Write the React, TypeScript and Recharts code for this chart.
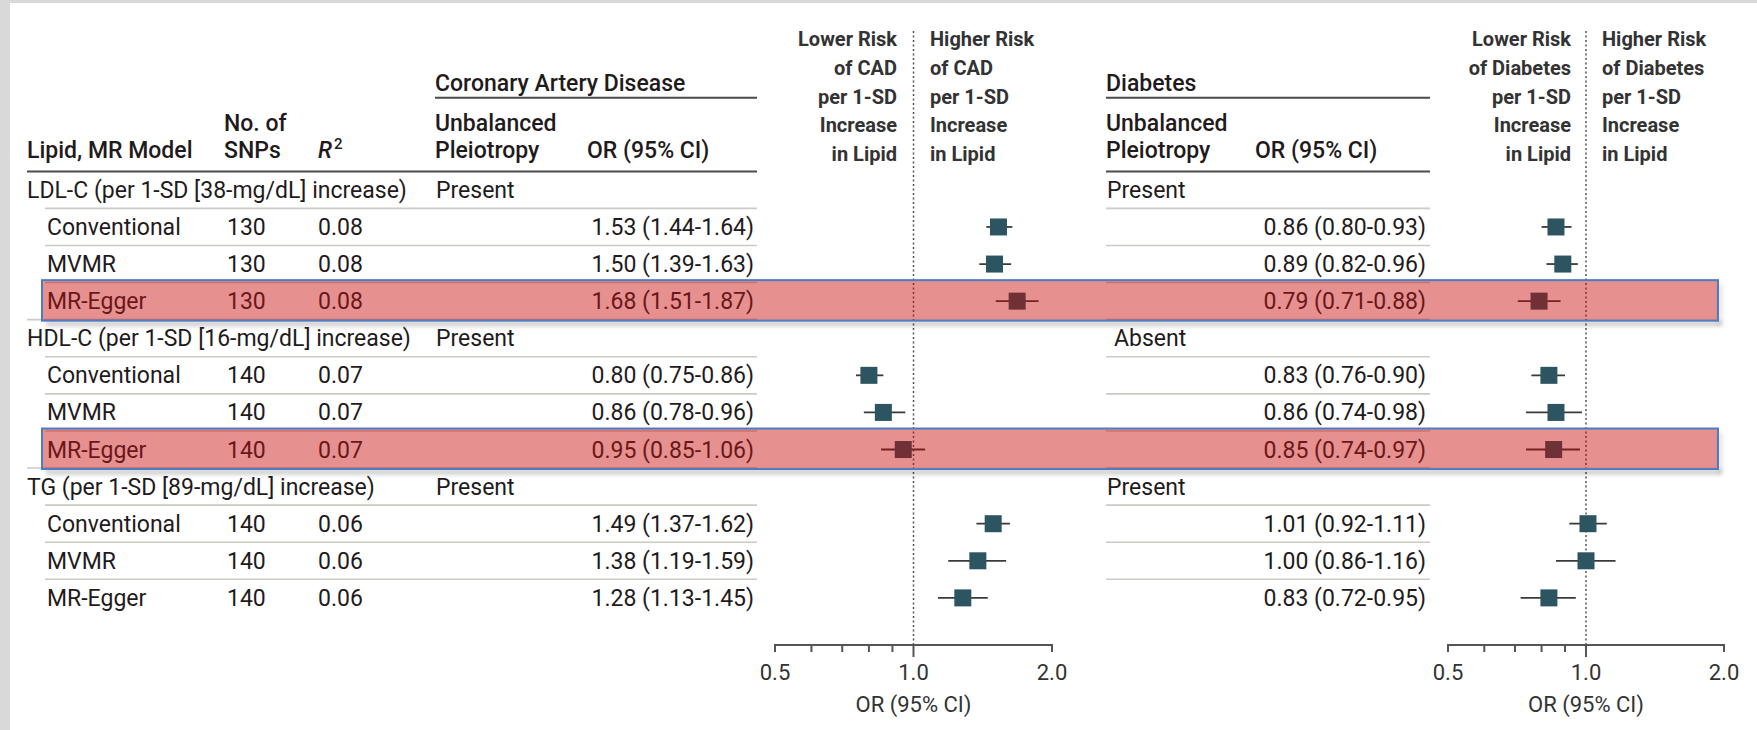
import React from 'react';
import {
  ComposedChart,
  Scatter,
  ErrorBar,
  XAxis,
  YAxis,
  ReferenceLine,
} from 'recharts';

// ---- data ----
const groupLabels = [
  'LDL-C (per 1-SD [38-mg/dL] increase)',
  'HDL-C (per 1-SD [16-mg/dL] increase)',
  'TG (per 1-SD [89-mg/dL] increase)',
];
const cadPleiotropy = ['Present', 'Present', 'Present'];
const dmPleiotropy = ['Present', 'Absent', 'Present'];
const models = ['Conventional', 'MVMR', 'MR-Egger'];
const snpCounts = [130, 140, 140];
const r2Values = ['0.08', '0.07', '0.06'];

// 9 estimates: group x model
const cadOr = [1.53, 1.5, 1.68, 0.8, 0.86, 0.95, 1.49, 1.38, 1.28];
const cadLow = [1.44, 1.39, 1.51, 0.75, 0.78, 0.85, 1.37, 1.19, 1.13];
const cadHigh = [1.64, 1.63, 1.87, 0.86, 0.96, 1.06, 1.62, 1.59, 1.45];
const dmOr = [0.86, 0.89, 0.79, 0.83, 0.86, 0.85, 1.01, 1.0, 0.83];
const dmLow = [0.8, 0.82, 0.71, 0.76, 0.74, 0.74, 0.92, 0.86, 0.72];
const dmHigh = [0.93, 0.96, 0.88, 0.9, 0.98, 0.97, 1.11, 1.16, 0.95];
const highlighted = [false, false, true, false, false, true, false, false, false];

const orTicks = [0.5, 0.6, 0.7, 0.8, 0.9, 1, 2];
const orTickLabels: Record<number, string> = { 0.5: '0.5', 1: '1.0', 2: '2.0' };

const cadLowerHead = ['Lower Risk', 'of CAD', 'per 1-SD', 'Increase', 'in Lipid'];
const cadHigherHead = ['Higher Risk', 'of CAD', 'per 1-SD', 'Increase', 'in Lipid'];
const dmLowerHead = ['Lower Risk', 'of Diabetes', 'per 1-SD', 'Increase', 'in Lipid'];
const dmHigherHead = ['Higher Risk', 'of Diabetes', 'per 1-SD', 'Increase', 'in Lipid'];

// ---- derived tables ----
const fmt = (v: number) => v.toFixed(2);

type Row = {
  row: number;
  group?: string;
  cadP?: string;
  dmP?: string;
  model?: string;
  snps?: number;
  r2?: string;
  cadText?: string;
  dmText?: string;
  endOfGroup?: boolean;
  hl?: boolean;
};

const tableRows: Row[] = [];
const cadData: any[] = [];
const dmData: any[] = [];

groupLabels.forEach((g, gi) => {
  tableRows.push({ row: gi * 4, group: g, cadP: cadPleiotropy[gi], dmP: dmPleiotropy[gi] });
  models.forEach((m, mi) => {
    const i = gi * 3 + mi;
    const row = gi * 4 + 1 + mi;
    tableRows.push({
      row,
      model: m,
      snps: snpCounts[gi],
      r2: r2Values[gi],
      cadText: `${fmt(cadOr[i])} (${fmt(cadLow[i])}-${fmt(cadHigh[i])})`,
      dmText: `${fmt(dmOr[i])} (${fmt(dmLow[i])}-${fmt(dmHigh[i])})`,
      endOfGroup: mi === models.length - 1,
      hl: highlighted[i],
    });
    cadData.push({ row, x: cadOr[i], err: [cadOr[i] - cadLow[i], cadHigh[i] - cadOr[i]] });
    dmData.push({ row, x: dmOr[i], err: [dmOr[i] - dmLow[i], dmHigh[i] - dmOr[i]] });
  });
});

const rowTicks = tableRows.map((r) => r.row);
const lastRow = rowTicks[rowTicks.length - 1];
const Y_DOMAIN: [number, number] = [-4.31, 12.27];

const TEXT = '#1f1b1c';
const TEXT_HL = '#6a1719';
const TEAL = '#2c5561';
const FONT = 'Roboto, "Liberation Sans", sans-serif';
const FS = 23;

// y-axis tick = one table row (text, separator, and the highlight band for MR-Egger rows)
function RowTick(props: any) {
  const { y, payload } = props;
  const r = tableRows.find((t) => t.row === payload.value);
  if (!r) return null;
  const b = y + 8;
  const sep = y + 18.5;
  const common = { fontSize: FS, fill: r.hl ? TEXT_HL : TEXT, fontFamily: FONT };
  return (
    <g>
      {r.row !== lastRow && (
        <>
          <line x1={r.endOfGroup ? 27 : 45} x2={757} y1={sep} y2={sep} stroke="#cbcac4" strokeWidth={1.6} />
          <line x1={1106} x2={1430} y1={sep} y2={sep} stroke="#cbcac4" strokeWidth={1.6} />
        </>
      )}
      {r.hl && (
        <g>
          <rect x={46} y={y + 20} width={1676} height={5} fill="rgba(0,0,0,0.2)" style={{ filter: 'blur(2px)' }} />
          <rect x={1718} y={y - 17} width={4} height={40} fill="rgba(0,0,0,0.12)" style={{ filter: 'blur(2px)' }} />
          <rect x={42} y={y - 21} width={1676} height={40.5} fill="rgba(200,0,0,0.435)" stroke="#4d7cc2" strokeWidth={2} />
        </g>
      )}
      {r.group ? (
        <>
          <text x={27} y={b} {...common}>{r.group}</text>
          <text x={436} y={b} {...common}>{r.cadP}</text>
          <text x={r.dmP === 'Absent' ? 1114 : 1107} y={b} {...common}>{r.dmP}</text>
        </>
      ) : (
        <>
          <text x={47} y={b} {...common}>{r.model}</text>
          <text x={227} y={b} {...common}>{r.snps}</text>
          <text x={318} y={b} {...common}>{r.r2}</text>
          <text x={754} y={b} textAnchor="end" {...common}>{r.cadText}</text>
          <text x={1426} y={b} textAnchor="end" {...common}>{r.dmText}</text>
        </>
      )}
    </g>
  );
}

// axis height is 1px each and the axes stack, so `shift` brings ticks back to the plot bottom
function OrTick(props: any) {
  const { x, payload, shift } = props;
  const y = props.y - shift;
  const v = payload.value as number;
  const label = orTickLabels[v];
  return (
    <g>
      <line x1={x} x2={x} y1={y} y2={y + (v === 1 ? 13 : 8)} stroke="#555" strokeWidth={2} />
      {label && (
        <text x={x} y={y + 36} textAnchor="middle" fontSize={22} fill="#333" fontFamily={FONT}>
          {label}
        </text>
      )}
      {v === 1 && (
        <text x={x} y={y + 68} textAnchor="middle" fontSize={22} fill="#333" fontFamily={FONT}>
          OR (95% CI)
        </text>
      )}
    </g>
  );
}

const Square = (props: any) => (
  <rect x={props.cx - 8.5} y={props.cy - 8.5} width={17} height={17} fill={TEAL} />
);

function Header() {
  const t = { fontSize: FS, fill: TEXT, fontFamily: FONT, fontWeight: 500 };
  const h = { fontSize: 20, fill: '#333', fontFamily: FONT, fontWeight: 700 };
  const lineYs = [46, 75, 104, 132, 161];
  return (
    <svg width={1757} height={730} style={{ position: 'absolute', left: 0, top: 0 }}>
      <text x={435} y={91} {...t}>Coronary Artery Disease</text>
      <line x1={435} x2={757} y1={97.7} y2={97.7} stroke="#4a4a4a" strokeWidth={2} />
      <text x={27} y={158} {...t}>Lipid, MR Model</text>
      <text x={224} y={131} {...t}>No. of</text>
      <text x={224} y={158} {...t}>SNPs</text>
      <text x={318} y={158} {...t}>
        <tspan fontStyle="italic">R</tspan>
        <tspan fontSize={15} dy={-9} dx={2}>2</tspan>
      </text>
      <text x={435} y={131} {...t}>Unbalanced</text>
      <text x={435} y={158} {...t}>Pleiotropy</text>
      <text x={587} y={158} {...t}>OR (95% CI)</text>
      <line x1={27} x2={757} y1={171.5} y2={171.5} stroke="#4a4a4a" strokeWidth={2} />

      <text x={1106} y={91} {...t}>Diabetes</text>
      <line x1={1106} x2={1430} y1={97.7} y2={97.7} stroke="#4a4a4a" strokeWidth={2} />
      <text x={1106} y={131} {...t}>Unbalanced</text>
      <text x={1106} y={158} {...t}>Pleiotropy</text>
      <text x={1255} y={158} {...t}>OR (95% CI)</text>
      <line x1={1106} x2={1430} y1={171.5} y2={171.5} stroke="#4a4a4a" strokeWidth={2} />

      {cadLowerHead.map((s, i) => (
        <text key={'cl' + i} x={897} y={lineYs[i]} textAnchor="end" {...h}>{s}</text>
      ))}
      {cadHigherHead.map((s, i) => (
        <text key={'ch' + i} x={930} y={lineYs[i]} {...h}>{s}</text>
      ))}
      {dmLowerHead.map((s, i) => (
        <text key={'dl' + i} x={1571} y={lineYs[i]} textAnchor="end" {...h}>{s}</text>
      ))}
      {dmHigherHead.map((s, i) => (
        <text key={'dh' + i} x={1602} y={lineYs[i]} {...h}>{s}</text>
      ))}
    </svg>
  );
}

export default function App() {
  return (
    <div style={{ position: 'relative', width: 1757, height: 730, background: '#d9d9d9', overflow: 'hidden' }}>
      <style>{'body{margin:0}'}</style>
      <div style={{ position: 'absolute', left: 10, top: 3, right: 0, bottom: 0, background: '#fff' }} />
      <Header />
      <div style={{ position: 'absolute', left: 0, top: 0 }}>
        <ComposedChart width={1757} height={730} margin={{ top: 30, right: 33, bottom: 83, left: 41 }}>
          <YAxis
            type="number"
            dataKey="row"
            domain={Y_DOMAIN}
            allowDataOverflow
            reversed
            ticks={rowTicks}
            interval={0}
            width={1}
            axisLine={false}
            tickLine={false}
            tick={(p: any) => <RowTick {...p} />}
          />
          <XAxis
            xAxisId="cad"
            type="number"
            dataKey="x"
            scale="log"
            domain={[0.5, 2]}
            allowDataOverflow
            ticks={orTicks}
            interval={0}
            padding={{ left: 733, right: 672 }}
            height={1}
            axisLine={false}
            tickLine={false}
            tickSize={0}
            tickMargin={0}
            tick={(p: any) => <OrTick {...p} shift={1} />}
          />
          <XAxis
            xAxisId="dm"
            type="number"
            dataKey="x"
            scale="log"
            domain={[0.5, 2]}
            allowDataOverflow
            ticks={orTicks}
            interval={0}
            padding={{ left: 1406, right: 0 }}
            height={1}
            axisLine={false}
            tickLine={false}
            tickSize={0}
            tickMargin={0}
            tick={(p: any) => <OrTick {...p} shift={2} />}
          />

          <ReferenceLine xAxisId="cad" x={1} stroke="#555" strokeDasharray="2 2.5" strokeWidth={1.5} />
          <ReferenceLine xAxisId="dm" x={1} stroke="#555" strokeDasharray="2 2.5" strokeWidth={1.5} />
          <ReferenceLine
            xAxisId="cad"
            segment={[{ x: 0.5, y: Y_DOMAIN[1] }, { x: 2, y: Y_DOMAIN[1] }]}
            stroke="#555"
            strokeWidth={2}
          />
          <ReferenceLine
            xAxisId="dm"
            segment={[{ x: 0.5, y: Y_DOMAIN[1] }, { x: 2, y: Y_DOMAIN[1] }]}
            stroke="#555"
            strokeWidth={2}
          />

          <Scatter xAxisId="cad" data={cadData} dataKey="x" shape={Square} isAnimationActive={false}>
            <ErrorBar dataKey="err" direction="x" width={0} stroke="#3a3a3a" strokeWidth={1.8} isAnimationActive={false} />
          </Scatter>
          <Scatter xAxisId="dm" data={dmData} dataKey="x" shape={Square} isAnimationActive={false}>
            <ErrorBar dataKey="err" direction="x" width={0} stroke="#3a3a3a" strokeWidth={1.8} isAnimationActive={false} />
          </Scatter>
        </ComposedChart>
      </div>
    </div>
  );
}
